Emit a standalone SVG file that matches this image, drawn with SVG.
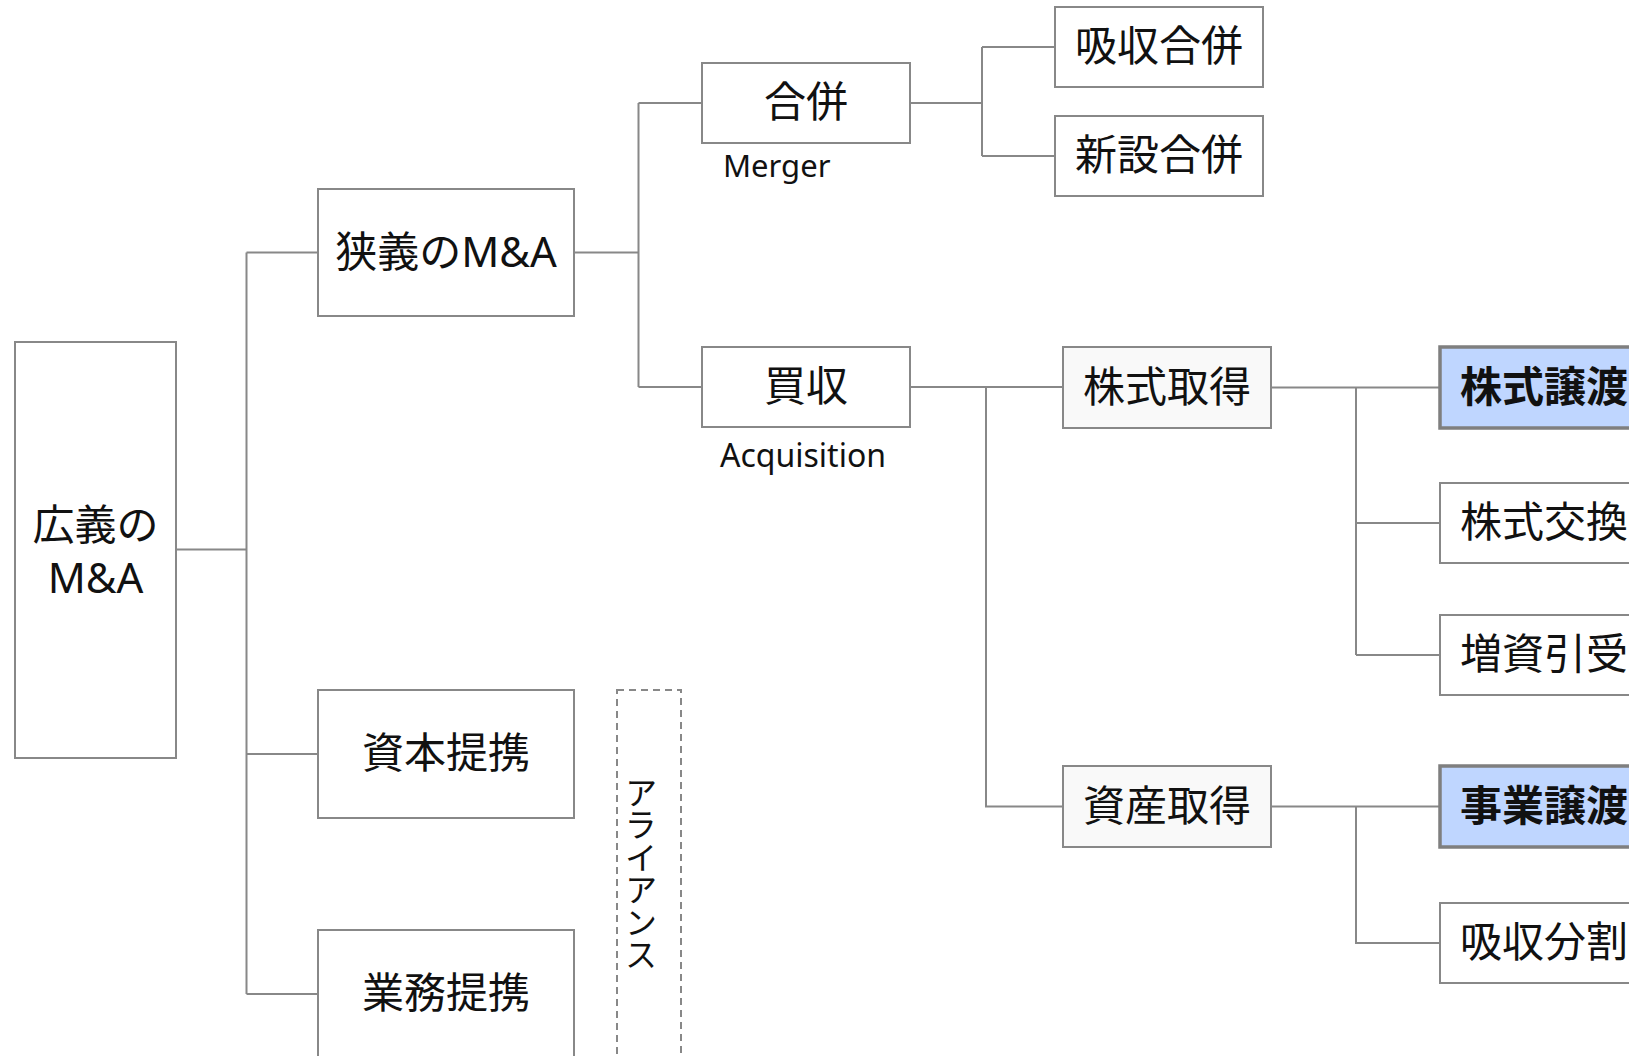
<svg xmlns="http://www.w3.org/2000/svg" width="1629" height="1056" viewBox="0 0 1629 1056">
<style>
.box{fill:#ffffff;stroke:#888888;stroke-width:2}
.boxg{fill:#f9f9f9;stroke:#888888;stroke-width:2}
.hl{fill:#bfd6ff;stroke:#7f7f7f;stroke-width:3.5}
.dash{fill:none;stroke:#888888;stroke-width:2;stroke-dasharray:7 5}
.lbl{font-family:"Noto Sans","Noto Sans CJK JP",sans-serif;font-size:42px;fill:#111111;text-anchor:middle}
.bold{font-weight:bold}
.sub{font-family:"Noto Sans","Noto Sans CJK JP",sans-serif;font-size:31px;fill:#111111}
.vt{font-family:"Noto Sans CJK JP",sans-serif;font-size:32.5px;fill:#111111;writing-mode:vertical-rl;text-orientation:upright}
.conn path{fill:none;stroke:#888888;stroke-width:2}
</style>
<rect width="1629" height="1056" fill="#ffffff"/>
<g class="conn" id="connectors">
<path d="M176 549.5H246.5M246.5 252.5V994M246.5 252.5H318M246.5 754H318M246.5 994H318"/>
<path d="M574 252.5H638.5M638.5 103V387M638.5 103H702M638.5 387H702"/>
<path d="M910 103H982M982 47V156M982 47H1055M982 156H1055"/>
<path d="M910 387H1063M986 387V806.5H1063"/>
<path d="M1271 387.5H1440M1356 387.5V655M1356 523H1440M1356 655H1440"/>
<path d="M1271 806.5H1440M1356 806.5V943H1440"/>
</g>
<g id="n-kougi">
<rect class="box" x="15" y="342" width="161" height="416"/>
<text class="lbl" x="95.5" y="540">広義の</text>
<text class="lbl" x="95.5" y="593">M&amp;A</text>
</g>
<g id="n-kyougi">
<rect class="box" x="318" y="189" width="256" height="127"/>
<text class="lbl" x="446" y="267">狭義のM&amp;A</text>
</g>
<g id="n-shihon">
<rect class="box" x="318" y="690" width="256" height="128"/>
<text class="lbl" x="446" y="768">資本提携</text>
</g>
<g id="n-gyoumu">
<rect class="box" x="318" y="930" width="256" height="128"/>
<text class="lbl" x="446" y="1008">業務提携</text>
</g>
<g id="n-alliance">
<rect class="dash" x="617" y="690" width="64" height="400"/>
<text class="vt" x="641" y="776">アライアンス</text>
</g>
<g id="n-gappei">
<rect class="box" x="702" y="63" width="208" height="80"/>
<text class="lbl" x="806" y="117">合併</text>
<text class="sub" x="723" y="176.5">Merger</text>
</g>
<g id="n-baishu">
<rect class="box" x="702" y="347" width="208" height="80"/>
<text class="lbl" x="806" y="401">買収</text>
<text class="sub" x="720" y="466.5" style="font-size:32px">Acquisition</text>
</g>
<g id="n-kyushugappei">
<rect class="box" x="1055" y="7" width="208" height="80"/>
<text class="lbl" x="1159" y="61">吸収合併</text>
</g>
<g id="n-shinsetsugappei">
<rect class="box" x="1055" y="116" width="208" height="80"/>
<text class="lbl" x="1159" y="170">新設合併</text>
</g>
<g id="n-kabushikishutoku">
<rect class="boxg" x="1063" y="347" width="208" height="81"/>
<text class="lbl" x="1167" y="401.5">株式取得</text>
</g>
<g id="n-shisanshutoku">
<rect class="boxg" x="1063" y="766" width="208" height="81"/>
<text class="lbl" x="1167" y="820.5">資産取得</text>
</g>
<g id="n-kabushikijouto">
<rect class="hl" x="1440" y="347" width="208" height="81"/>
<text class="lbl bold" x="1544" y="401.5">株式譲渡</text>
</g>
<g id="n-kabushikikoukan">
<rect class="box" x="1440" y="483" width="208" height="80"/>
<text class="lbl" x="1544" y="537">株式交換</text>
</g>
<g id="n-zoushi">
<rect class="box" x="1440" y="615" width="208" height="80"/>
<text class="lbl" x="1544" y="669">増資引受</text>
</g>
<g id="n-jigyoujouto">
<rect class="hl" x="1440" y="766" width="208" height="81"/>
<text class="lbl bold" x="1544" y="820.5">事業譲渡</text>
</g>
<g id="n-kyushubunkatsu">
<rect class="box" x="1440" y="903" width="208" height="80"/>
<text class="lbl" x="1544" y="957">吸収分割</text>
</g>
</svg>
